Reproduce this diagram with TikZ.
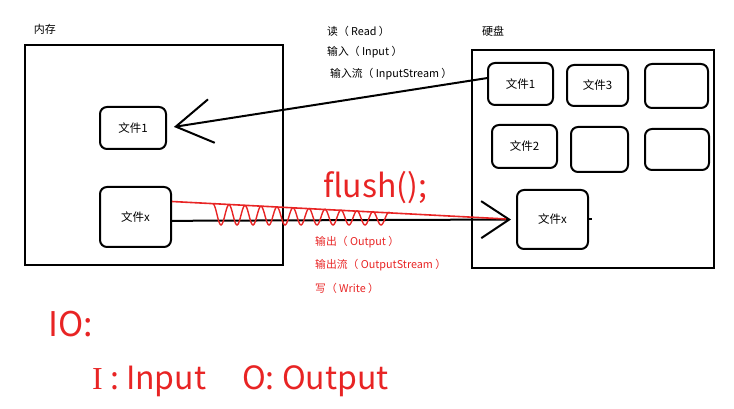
\documentclass[tikz,border=0pt]{standalone}
\usepackage{fontspec}
\setmainfont{Noto Sans CJK SC}
\newfontfamily\serifi{Liberation Serif}
\usepackage{xcolor}
\usetikzlibrary{positioning,arrows.meta}
\definecolor{penred}{RGB}{232,36,36}

\begin{document}
\begin{tikzpicture}[x=1pt,y=1pt,
    store/.style={draw, line width=2.3pt, inner sep=0pt},
    file/.style={draw, rounded corners=7pt, line width=2pt, inner sep=0pt,
                 font=\fontsize{11.5}{13}\selectfont},
    note/.style={anchor=west, inner sep=0pt, font=\fontsize{10.8}{13}\selectfont},
    rednote/.style={note, text=penred},
    flow/.style={line width=2pt}]
      %\draw [dotted] (0,0) grid[step=50] (734,409);
      \useasboundingbox (0,0) rectangle (734,409);
      % memory and disk
      \node [store, minimum width=258pt, minimum height=220pt] (mem) at (154.0, 254.0) {};
      \node                                                   (meml) at ( 45.0, 380.0) {\fontsize{11}{13}\selectfont 内存};
      \node [store, minimum width=242pt, minimum height=218pt] (disk) at (593.0, 250.0) {};
      \node                                                  (diskl) at (493.0, 378.0) {\fontsize{11}{13}\selectfont 硬盘};
      % files in memory
      \node [file, minimum width=66pt, minimum height=42pt]    (m1) at (133.0, 281.0) {文件1};
      \node [file, minimum width=71pt, minimum height=60pt]    (mx) at (135.5, 192.0) {文件x};
      % files on disk
      \node [file, minimum width=65pt, minimum height=42pt]    (d1) at (520.5, 325.0) {文件1};
      \node [file, minimum width=61pt, minimum height=41pt]    (d3) at (597.5, 323.5) {文件3};
      \node [file, minimum width=63pt, minimum height=44pt]   (de1) at (676.5, 323.0) {};
      \node [file, minimum width=65pt, minimum height=43pt]    (d2) at (524.5, 262.5) {文件2};
      \node [file, minimum width=57pt, minimum height=45pt]   (de2) at (599.5, 259.5) {};
      \node [file, minimum width=64pt, minimum height=41pt]   (de3) at (677.0, 259.5) {};
      \node [file, minimum width=71pt, minimum height=59pt]    (dx) at (552.5, 189.5) {文件x};
      % read side
      \node [note]                                           (rd) at (327.0, 378.0) {读（ Read ）};
      \node [note]                                           (in) at (327.0, 357.0) {输入（ Input ）};
      \node [note]                                          (ins) at (330.0, 335.0) {输入流（ InputStream ）};
      % write side
      \node [anchor=base west, inner sep=0pt, text=penred,
             font=\fontsize{32}{36}\selectfont]              (fl) at (323.0, 211.0) {flush();};
      \node [rednote]                                        (out) at (315.0, 167.0) {输出（ Output ）};
      \node [rednote]                                       (outs) at (315.0, 144.0) {输出流（ OutputStream ）};
      \node [rednote]                                         (wr) at (315.0, 121.0) {写（ Write ）};
      % IO
      \node [anchor=base west, inner sep=0pt, text=penred,
             font=\fontsize{34}{40}\selectfont]              (io) at ( 48.0,  72.0) {IO:};
      \node [anchor=base west, inner sep=0pt, text=penred,
             font=\fontsize{32}{36}\selectfont]           (iodef) at ( 92.0,  19.0) {{\serifi I} : Input\hspace{0.9em} O: Output};
      \draw [flow, -{Straight Barb[length=36pt, width=44pt]}, shorten >=7pt] (d1.170) -- (m1.east);
      \draw [flow, -{Straight Barb[length=28pt, width=37pt]}, shorten >=5pt] (mx.-6) -- (dx.west);
      \draw [flow] (dx.east) -- ++(3,0);
      \draw [penred, line width=1.6pt, shorten >=10pt] (mx.23) -- (dx.west);
      \draw [penred, line width=1.4pt, domain=213:390, samples=200]
            plot (\x, {(207-(\x-173)*0.048+184)/2 + (207-(\x-173)*0.048-184)/2*cos(22.5*(\x-213))});
\end{tikzpicture}
\end{document}
